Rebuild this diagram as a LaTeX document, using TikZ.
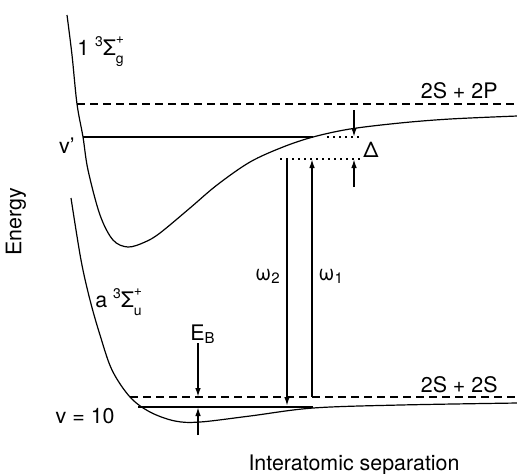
\documentclass[tikz,border=0pt]{standalone}
\usepackage{fontspec}
\setmainfont{TeX Gyre Heros}
\usepackage{tikz}
\usetikzlibrary{arrows.meta,positioning}
% stacked super/subscript after a term symbol
\newcommand{\supsub}[2]{\makebox[0pt][l]{\raisebox{1.05ex}{\scriptsize #1}}\raisebox{-0.75ex}{\scriptsize #2}}
\newcommand{\lsup}[1]{\raisebox{0.8ex}{\scriptsize #1}}

\begin{document}
\begin{tikzpicture}[
  x=0.5pt, y=-0.5pt,
  font=\fontsize{10.7}{13}\selectfont,
  curve/.style={line width=0.6pt, line join=round},
  level/.style={line width=0.55pt},
  limit/.style={line width=0.55pt, dash pattern=on 4pt off 2.5pt},
  gap/.style={line width=0.6pt, dash pattern=on 1pt off 2pt},
  arr/.style={-{Latex[length=4.5pt,width=2.8pt]}, line width=0.8pt},
  lbl/.style={inner sep=0pt}
]
\useasboundingbox (0,0) rectangle (517,473);

% potential curves
\draw[curve] plot[smooth, tension=0.55] coordinates {(67,15) (72,55) (77,104) (83,137) (88,170) (100,215) (113,240) (128,247) (145,242) (160,233) (190,208) (217,185) (250,162) (283,147) (313,137) (350,129) (400,123) (450,119) (517,116)};
\draw[curve] plot[smooth, tension=0.55] coordinates {(71,198) (81,260) (90,300) (100,335) (112,370) (130,397) (150,412) (175,421) (200,422) (250,416) (313,408) (400,405) (517,403)};

% asymptotes and levels
\coordinate (pl) at (77,104);  \coordinate (pr) at (517,104);
\coordinate (sl) at (130,397); \coordinate (sr) at (517,397);
\coordinate (vl) at (83,137);  \coordinate (vr) at (313,137);
\coordinate (bl) at (138,407); \coordinate (br) at (313,407);
\draw[limit] (pl) -- (pr);
\draw[limit] (sl) -- (sr);
\draw[level] (vl) -- (vr);
\draw[level] (bl) -- (br);

% detuning marks
\coordinate (d1l) at (327,137); \coordinate (d1r) at (362,137);
\coordinate (d2l) at (280,159); \coordinate (d2r) at (362,159);
\draw[gap] (d1l) -- (d1r);
\draw[gap] (d2l) -- (d2r);

% arrows
\coordinate (dtop) at (354,110); \coordinate (dup) at (354,137);
\coordinate (dbot) at (354,187); \coordinate (ddn) at (354,159);
\draw[arr] (dtop) -- (dup);
\draw[arr] (dbot) -- (ddn);
\coordinate (w2a) at (287,159); \coordinate (w2b) at (287,406);
\coordinate (w1a) at (312,397); \coordinate (w1b) at (312,159);
\draw[arr] (w2a) -- (w2b);
\draw[arr] (w1a) -- (w1b);
\coordinate (ea) at (198,343); \coordinate (eb) at (198,397);
\coordinate (ec) at (198,435); \coordinate (ed) at (198,407);
\draw[arr] (ea) -- (eb);
\draw[arr] (ec) -- (ed);

% labels
\node[lbl, anchor=base west] (gst) at (77,55) {1 \lsup{3}Σ\supsub{+}{g}};
\node[lbl, anchor=base west] (ust) at (95,307) {a \lsup{3}Σ\supsub{+}{u}};
\node[lbl, anchor=base east] (pp) at (498,98) {2S + 2P};
\node[lbl, anchor=base east] (ss) at (498,392) {2S + 2S};
\node[lbl, anchor=base east] (vp) at (75,153) {v'};
\node[lbl, anchor=base east] (v10) at (115,423) {v = 10};
\node[lbl, anchor=base west] (del) at (363,157) {Δ};
\node[lbl, anchor=base east] (om2) at (281,280) {ω\textsubscript{2}};
\node[lbl, anchor=base west] (om1) at (318,280) {ω\textsubscript{1}};
\node[lbl, anchor=base west] (ebl) at (190,340) {E\textsubscript{B}};
\node[lbl, rotate=90] (en) at (16,222) {Energy};
\node[lbl, anchor=base] (sep) at (354,470) {Interatomic separation};
\end{tikzpicture}
\end{document}
